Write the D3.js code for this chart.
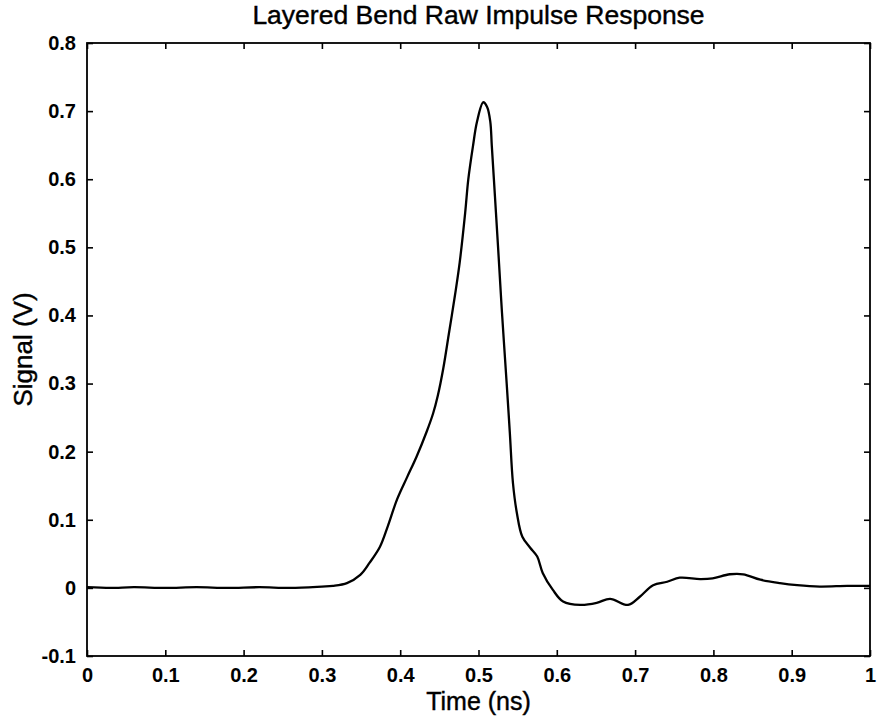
<!DOCTYPE html>
<html>
<head>
<meta charset="utf-8">
<script src="https://cdn.jsdelivr.net/npm/d3@7"></script>
<style>
  body { margin: 0; background: #fff; }
  svg text { font-family: "Liberation Sans", Arial, Helvetica, sans-serif; fill: #000; }
</style>
</head>
<body>
<div id="chart"></div>
<script>
// impulse response (time in ns, signal in V)
var timeNs = [
  0, 0.03, 0.06, 0.1, 0.14, 0.18, 0.22, 0.26, 0.3, 0.314, 0.332, 0.349, 0.361,
  0.374, 0.384, 0.396, 0.409, 0.421, 0.434, 0.442, 0.448, 0.455, 0.462, 0.470,
  0.476, 0.483, 0.487, 0.493, 0.498, 0.506, 0.511, 0.515, 0.517, 0.521, 0.525,
  0.530, 0.536, 0.540, 0.544, 0.549, 0.556, 0.566, 0.575, 0.582, 0.595, 0.608,
  0.630, 0.651, 0.668, 0.691, 0.706, 0.723, 0.741, 0.757, 0.783, 0.799, 0.821,
  0.838, 0.860, 0.885, 0.907, 0.936, 0.971, 1.0
];
var signalV = [
  0.001, 0.0, 0.001, 0.0, 0.001, 0.0, 0.001, 0.0, 0.002, 0.003, 0.007, 0.019, 0.037,
  0.06, 0.09, 0.13, 0.163, 0.193, 0.23, 0.256, 0.282, 0.322, 0.372, 0.43,
  0.478, 0.551, 0.6, 0.649, 0.684, 0.713, 0.706, 0.685, 0.649, 0.575, 0.50,
  0.404, 0.30, 0.228, 0.154, 0.11, 0.075, 0.059, 0.046, 0.022, -0.003, -0.02,
  -0.025, -0.022, -0.016, -0.025, -0.013, 0.004, 0.009, 0.015, 0.013, 0.014, 0.02,
  0.02, 0.012, 0.007, 0.004, 0.002, 0.003, 0.003
];
var xTicks = [0, 0.1, 0.2, 0.3, 0.4, 0.5, 0.6, 0.7, 0.8, 0.9, 1];
var yTicks = [-0.1, 0, 0.1, 0.2, 0.3, 0.4, 0.5, 0.6, 0.7, 0.8];

var width = 880, height = 723;
var margin = {top: 43, right: 10, bottom: 67, left: 87};
var plotW = width - margin.left - margin.right;
var plotH = height - margin.top - margin.bottom;

var svg = d3.select("#chart").append("svg")
    .attr("width", width)
    .attr("height", height);

var g = svg.append("g")
    .attr("transform", "translate(" + margin.left + "," + margin.top + ")");

var x = d3.scaleLinear().domain([0, 1]).range([0, plotW]);
var y = d3.scaleLinear().domain([-0.1, 0.8]).range([plotH, 0]);

// plain hyphen for negatives, like the original
function fmt(d) { return d === 0 ? "0" : String(+d.toFixed(1)); }

// bottom + left axes carry the labels, ticks point inward (matlab style)
var xAxis = g.append("g")
    .attr("transform", "translate(0," + plotH + ")")
    .call(d3.axisBottom(x).tickValues(xTicks).tickSize(-6).tickPadding(19).tickFormat(fmt));
var yAxis = g.append("g")
    .call(d3.axisLeft(y).tickValues(yTicks).tickSize(-6).tickPadding(11).tickFormat(fmt));
// top + right axes only mirror the ticks
var xTop = g.append("g")
    .call(d3.axisTop(x).tickValues(xTicks).tickSize(-6).tickFormat(""));
var yRight = g.append("g")
    .attr("transform", "translate(" + plotW + ",0)")
    .call(d3.axisRight(y).tickValues(yTicks).tickSize(-6).tickFormat(""));

[xAxis, yAxis, xTop, yRight].forEach(function(a) {
    a.select(".domain").remove();
    a.selectAll(".tick line").attr("stroke", "#000").attr("stroke-width", 1.6);
    a.selectAll("text")
        .style("font-size", "20px")
        .style("font-weight", "bold")
        .attr("fill", "#000");
});
xAxis.selectAll("text").attr("dy", "0.35em");

g.append("rect")
    .attr("x", 0).attr("y", 0)
    .attr("width", plotW).attr("height", plotH)
    .attr("fill", "none")
    .attr("stroke", "#000")
    .attr("stroke-width", 1.8);

var pts = timeNs.map(function(t, i) { return [t, signalV[i]]; });
var line = d3.line()
    .x(function(d) { return x(d[0]); })
    .y(function(d) { return y(d[1]); })
    .curve(d3.curveCatmullRom.alpha(0.5));

g.append("path")
    .datum(pts)
    .attr("d", line)
    .attr("fill", "none")
    .attr("stroke", "#000")
    .attr("stroke-width", 2.3)
    .attr("stroke-linejoin", "round");

// labels
svg.append("text")
    .attr("x", margin.left + plotW / 2)
    .attr("y", 24)
    .attr("text-anchor", "middle")
    .style("font-size", "26.5px")
    .attr("stroke", "#000")
    .attr("stroke-width", 0.4)
    .text("Layered Bend Raw Impulse Response");

svg.append("text")
    .attr("x", margin.left + plotW / 2)
    .attr("y", 710)
    .attr("text-anchor", "middle")
    .style("font-size", "25px")
    .attr("stroke", "#000")
    .attr("stroke-width", 0.4)
    .text("Time (ns)");

svg.append("text")
    .attr("transform", "translate(32," + (margin.top + y(0.35)) + ") rotate(-90)")
    .attr("text-anchor", "middle")
    .style("font-size", "26px")
    .attr("stroke", "#000")
    .attr("stroke-width", 0.4)
    .text("Signal (V)");
</script>
</body>
</html>
